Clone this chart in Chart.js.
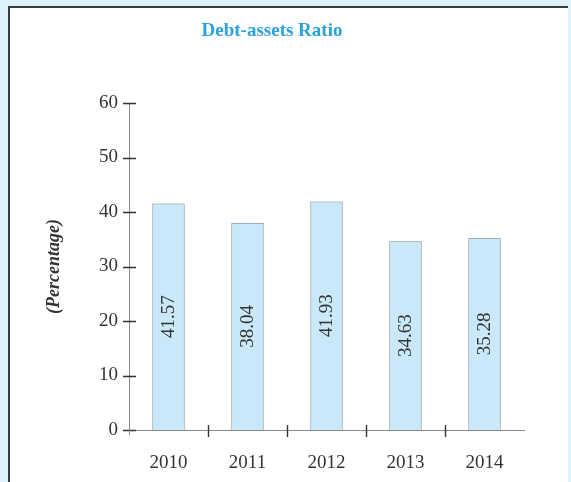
<!DOCTYPE html>
<html>
<head>
<meta charset="utf-8">
<script src="https://cdn.jsdelivr.net/npm/chart.js@4/dist/chart.umd.min.js"></script>
<style>
  html, body { margin: 0; padding: 0; background: #dff1fb; }
  #panel {
    position: absolute; left: 8px; top: 6px; width: 558px; height: 480px;
    background: #ffffff; border-left: 2px solid #3c3c3c; border-top: 2px solid #3c3c3c;
  }
  #wrap { position: absolute; left: 0; top: 0; width: 571px; height: 482px; }
</style>
</head>
<body>
<div id="panel"></div>
<div id="wrap"><canvas id="ratioChart" width="571" height="482"></canvas></div>
<script>
const years = ["2010", "2011", "2012", "2013", "2014"];
const debtRatio = [41.57, 38.04, 41.93, 34.63, 35.28];
const yTicks = [0, 10, 20, 30, 40, 50, 60];

const serif = "'Liberation Serif', 'Times New Roman', serif";
const textColor = "#333333";

// tick marks that cross the axis lines, plus the value text inside each bar
const axisMarks = {
  id: "axisMarks",
  afterDraw(chart) {
    const ctx = chart.ctx;
    const x = chart.scales.x;
    const y = chart.scales.y;
    const area = chart.chartArea;
    ctx.save();
    ctx.strokeStyle = "#333333";
    ctx.lineWidth = 1.4;
    ctx.beginPath();
    yTicks.forEach(function (v) {
      const py = Math.round(y.getPixelForValue(v)) + 0.5;
      ctx.moveTo(area.left - 6, py);
      ctx.lineTo(area.left + 7, py);
    });
    for (let i = 1; i < years.length; i++) {
      const px = Math.round((x.getPixelForValue(i - 1) + x.getPixelForValue(i)) / 2) + 0.5;
      ctx.moveTo(px, area.bottom - 5);
      ctx.lineTo(px, area.bottom + 7);
    }
    ctx.stroke();
    // small stub of the y axis below zero
    ctx.strokeStyle = "#8a8a8a";
    ctx.lineWidth = 1;
    ctx.beginPath();
    ctx.moveTo(area.left + 0.5, area.bottom);
    ctx.lineTo(area.left + 0.5, area.bottom + 5);
    ctx.stroke();

    ctx.fillStyle = textColor;
    ctx.font = "19px " + serif;
    ctx.textAlign = "center";
    ctx.textBaseline = "middle";
    chart.getDatasetMeta(0).data.forEach(function (bar, i) {
      ctx.save();
      ctx.translate(bar.x, (bar.y + bar.base) / 2);
      ctx.rotate(-Math.PI / 2);
      ctx.fillText(debtRatio[i].toFixed(2), 0, 1);
      ctx.restore();
    });
    ctx.restore();
  },
};

new Chart(document.getElementById("ratioChart").getContext("2d"), {
  type: "bar",
  data: {
    labels: years,
    datasets: [
      {
        label: "Debt-assets Ratio",
        data: debtRatio,
        backgroundColor: "#c9e8f9",
        borderColor: "#74838e",
        borderWidth: 1,
        barPercentage: 0.41,
        categoryPercentage: 1,
      },
    ],
  },
  options: {
    responsive: false,
    animation: false,
    devicePixelRatio: 1,
    layout: { padding: { left: 20, right: 47, top: 0, bottom: 0 } },
    scales: {
      x: {
        offset: true,
        grid: { display: false, drawTicks: false },
        border: { display: true, color: "#8a8a8a", width: 1 },
        ticks: { color: textColor, font: { family: serif, size: 19 }, padding: 22 },
        afterFit: function (scale) { scale.height = 52; },
      },
      y: {
        min: 0,
        max: 60,
        grid: { display: false, drawTicks: false },
        border: { display: true, color: "#8a8a8a", width: 1 },
        ticks: { stepSize: 10, color: textColor, font: { family: serif, size: 19 }, padding: 11 },
        title: {
          display: true,
          text: "(Percentage)",
          color: textColor,
          font: { family: serif, size: 18, style: "italic", weight: "bold" },
          padding: { top: 24, bottom: 0 },
        },
        afterFit: function (scale) { scale.width = 109; },
      },
    },
    plugins: {
      legend: { display: false },
      tooltip: { enabled: false },
      title: {
        display: true,
        text: "Debt-assets Ratio",
        color: "#2aa2da",
        font: { family: serif, size: 19, weight: "bold" },
        padding: { top: 20, bottom: 60.2 },
      },
    },
  },
  plugins: [axisMarks],
});
</script>
</body>
</html>
